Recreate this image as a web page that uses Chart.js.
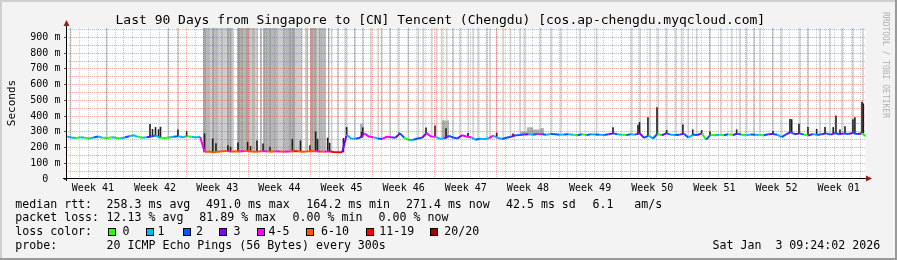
<!DOCTYPE html>
<html>
<head>
<meta charset="utf-8">
<title>Singapore to Tencent Chengdu</title>
<script src="https://cdn.jsdelivr.net/npm/chart.js"></script>
<style>
  html, body { margin: 0; padding: 0; background: #f3f3f3; }
  #graph { position: relative; width: 897px; height: 260px; overflow: hidden; }
  #graph canvas { position: absolute; left: 0; top: 0; }
  .txt { position: absolute; font-family: "DejaVu Sans Mono", monospace; white-space: pre; color: #000; line-height: 1; }
  .leg { font-size: 11.6px; }
  .sw { position: absolute; width: 6px; height: 6px; border: 1px solid #000; top: 228px; }
</style>
</head>
<body>
<div id="graph">
  <canvas id="smoke" width="897" height="260"></canvas>

  <div class="txt" style="left:115.5px;top:13px;font-size:13px">Last 90 Days from Singapore to [CN] Tencent (Chengdu) [cos.ap-chengdu.myqcloud.com]</div>
  <div class="txt" style="left:10.5px;top:103px;font-size:11px;transform:translate(-50%,-50%) rotate(-90deg)">Seconds</div>
  <div class="txt" style="left:881px;top:12px;font-size:8px;line-height:8px;color:#b0b0b0;writing-mode:vertical-rl">RRDTOOL / TOBI OETIKER</div>

  <div class="txt leg" style="left:15.3px;top:198.5px">median rtt:</div>
  <div class="txt leg" style="left:106.6px;top:198.5px">258.3 ms avg</div>
  <div class="txt leg" style="left:206px;top:198.5px">491.0 ms max</div>
  <div class="txt leg" style="left:306.3px;top:198.5px">164.2 ms min</div>
  <div class="txt leg" style="left:406px;top:198.5px">271.4 ms now</div>
  <div class="txt leg" style="left:506px;top:198.5px">42.5 ms sd</div>
  <div class="txt leg" style="left:592.6px;top:198.5px">6.1</div>
  <div class="txt leg" style="left:634.3px;top:198.5px">am/s</div>

  <div class="txt leg" style="left:15.3px;top:211.9px">packet loss:</div>
  <div class="txt leg" style="left:106.6px;top:211.9px">12.13 % avg</div>
  <div class="txt leg" style="left:199.3px;top:211.9px">81.89 % max</div>
  <div class="txt leg" style="left:292.6px;top:211.9px">0.00 % min</div>
  <div class="txt leg" style="left:378.6px;top:211.9px">0.00 % now</div>

  <div class="txt leg" style="left:15.3px;top:225.5px">loss color:</div>
  <div id="lossLegend"></div>

  <div class="txt leg" style="left:15.3px;top:239.5px">probe:</div>
  <div class="txt leg" style="left:106.6px;top:239.5px">20 ICMP Echo Pings (56 Bytes) every 300s</div>
  <div class="txt leg" style="left:712.6px;top:239.5px">Sat Jan  3 09:24:02 2026</div>
</div>

<script>
// values, one bucket every 12 h over 90 days
const STEP_DAYS = 0.5;
const Y_MAX_MS = 960;

const medianMs = [
  // week 41-42
  270, 264, 260, 266, 262, 258, 264, 270, 262, 260,
  266, 262, 258, 264, 272, 278, 268, 262, 266, 270,
  276, 262, 260, 264, 268, 272, 266, 272, 268, 264,
  268,
  // week 43-45, heavy loss
  172, 175, 170, 174, 176, 178, 174, 176, 175, 178,
  176, 174, 175, 177, 176, 174, 176, 175, 173, 175,
  177, 176, 174, 175, 178, 176, 175, 174, 176, 172,
  170, 170,
  // week 45-47
  282, 258, 256, 262, 290, 270, 266, 258, 255, 268,
  266, 262, 290, 262, 248, 250, 258, 262, 292, 270,
  268, 256, 258, 274, 264, 258, 278, 270, 266, 250,
  256, 254, 258, 276, 262, 254, 262, 268, 278,
  // week 48-01
  280, 283, 285, 282, 286, 284, 282, 286, 284, 282,
  283, 285, 282, 278, 284, 279, 285, 283, 282, 280,
  284, 290, 285, 282, 279, 284, 282, 290, 262, 276,
  258, 286, 278, 290, 282, 280, 282, 288, 262, 282,
  280, 290, 250, 282, 278, 282, 278, 284, 280, 288,
  282, 278, 283, 282, 280, 278, 284, 286, 282, 266,
  284, 298, 284, 290, 282, 276, 286, 280, 284, 290,
  282, 292, 284, 290, 286, 292, 286, 290, 272
];

// lost pings out of 20 for each bucket
const lossCount = [
  2, 1, 1, 0, 1, 0, 1, 2, 1, 0, 0, 1, 0, 1, 2, 1, 1, 0, 1, 3,
  2, 1, 0, 0, 1, 2, 1, 1, 0, 1, 1,
  5, 8, 8, 8, 8, 8, 5, 8, 8, 5, 8, 8, 8, 8, 5, 8, 8, 5, 8, 5,
  8, 12, 8, 8, 8, 8, 5, 8, 5, 12, 12, 12,
  3, 1, 1, 2, 3, 5, 5, 1, 2, 5, 4, 2, 3, 2, 0, 1, 2, 2, 3, 5,
  4, 1, 1, 3, 2, 2, 3, 5, 4, 1, 2, 1, 1, 5, 1, 1, 2, 2, 3,
  2, 2, 3, 1, 2, 5, 2, 1, 2, 2, 1, 2, 1, 0, 2, 0, 2, 1, 2, 1,
  2, 3, 2, 1, 0, 2, 1, 3, 3, 2, 1, 2, 0, 3, 2, 1, 2, 3, 2, 1,
  2, 3, 0, 2, 0, 1, 0, 2, 0, 3, 2, 0, 1, 2, 1, 0, 2, 3, 2, 1,
  2, 3, 2, 3, 2, 0, 3, 1, 2, 3, 2, 3, 2, 3, 2, 3, 2, 3, 0
];

// dense dark smoke spikes: day and top of the spike (ms)
const spikeDays = [
  9.35, 9.63, 9.97, 10.31, 10.53, 12.5, 13.48, 15.49,
  16.41, 16.78, 18.13, 18.42, 19.26, 20.35, 20.67, 21.4, 22.08, 22.87,
  25.38, 26.3, 27.37, 28.01, 28.22, 29.36, 29.59, 31.14,
  31.5, 33.19, 33.31, 37.4, 40.44, 41.45, 42.69, 45.17, 48.4, 50.24,
  61.5, 64.32, 64.49, 65.44, 66.46, 67.55, 69.38, 70.48, 71.49, 72.43,
  75.43, 79.52, 81.44, 81.63, 82.45, 83.46, 84.44, 85.38, 86.31, 86.62,
  87.07, 87.63, 88.53, 88.75, 89.55, 89.7
];
const spikeTopMs = [
  350, 318, 330, 316, 332, 315, 305, 290,
  258, 228, 215, 205, 232, 236, 210, 245, 225, 205,
  255, 245, 215, 302, 255, 262, 230, 260,
  330, 300, 328, 296, 328, 340, 322, 292, 294, 290,
  329, 345, 362, 393, 456, 312, 346, 315, 310, 302,
  315, 305, 382, 380, 351, 330, 318, 330, 330, 403,
  315, 335, 380, 393, 491, 480
];

// smoke running off the top of the graph: [start day, end day]
const midSmokeBands = [
  [15.32, 16.11], [16.67, 17.01], [17.4, 17.63], [17.97, 18.59], [19.15, 20.61],
  [20.84, 21.23], [21.74, 21.96], [22.13, 23.82], [24.27, 25.68], [27.03, 27.15],
  [27.37, 28.16], [28.38, 29.17], [29.4, 29.57]
];
const lightSmokeBands = [
  [16.11, 16.67], [17.01, 17.4], [17.63, 17.97], [18.59, 18.8], [20.61, 20.84],
  [21.23, 21.5], [23.82, 24.27], [25.68, 26.52], [26.8, 27.03], [28.16, 28.38],
  [29.74, 29.9], [30.47, 30.64], [31.26, 31.37]
];
const darkSmokeDays = [15.54, 16.5, 18.13, 19.32, 19.71, 20.27, 22.19, 22.87, 25.12, 25.57, 27.6, 27.93];
const thinSmokeDays = [
  0.39, 4.47, 11.41, 12.54, 31.5, 32.44, 33.31, 34.24, 35.06, 35.45, 36.38, 37.32,
  38.44, 39.57, 40.13, 41.08, 41.64, 42.21, 42.77, 43.51, 44.27, 45.2, 45.76, 46.3,
  47.27, 47.65, 48.4, 49.14, 49.95, 51.03, 51.6, 53.28, 54.58, 55.65, 57.79, 59.66,
  63.61, 64.55, 65.67, 66.6, 67.55, 68.6, 69.24, 69.98, 70.93, 72.43, 73.67, 74.87,
  75.81, 76.56, 77.38, 78.06, 79.52, 80.5, 82.56, 83.5, 84.82, 85.94, 87.3, 88.53, 89.66
];
// short smoke above the line: [start day, end day, top ms]
const shortSmoke = [
  [33.0, 33.4, 350], [42.24, 43.03, 372], [51.03, 51.81, 302],
  [51.81, 52.49, 329], [52.49, 53.28, 315], [53.28, 53.73, 323]
];

const weekLabels = ['Week 41', 'Week 42', 'Week 43', 'Week 44', 'Week 45', 'Week 46', 'Week 47',
  'Week 48', 'Week 49', 'Week 50', 'Week 51', 'Week 52', 'Week 01'];
const FIRST_DAY_LINE = 0.42;   // first midnight after the start
const FIRST_WEEK_LINE = 6.42;  // first Monday

const lossColors = [
  ['0', 0, '#26ff00'], ['1', 1, '#00b8ff'], ['2', 2, '#0059ff'], ['3', 3, '#7e00ff'],
  ['4-5', 5, '#ff00ff'], ['6-10', 10, '#ff5500'], ['11-19', 19, '#ff0000'], ['20/20', 20, '#a10000']
];

function colorForLoss(n) {
  for (const [, lim, c] of lossColors) if (n <= lim) return c;
  return '#a10000';
}
function medianAt(day) {
  const i = Math.min(medianMs.length - 1, Math.max(0, Math.round(day / STEP_DAYS)));
  return medianMs[i];
}

// legend swatches
const swatchX = [108, 145.7, 182.7, 219.3, 256.7, 306, 366, 430];
const labelX = [122.6, 157.6, 196, 233.6, 268.6, 321, 379.3, 444.3];
const legendBox = document.getElementById('lossLegend');
lossColors.forEach(([label, , color], k) => {
  const sw = document.createElement('div');
  sw.className = 'sw';
  sw.style.left = swatchX[k] + 'px';
  sw.style.background = color;
  legendBox.appendChild(sw);
  const t = document.createElement('div');
  t.className = 'txt leg';
  t.style.left = labelX[k] + 'px';
  t.style.top = '225.5px';
  t.textContent = label;
  legendBox.appendChild(t);
});

const medianPoints = medianMs.map((v, i) => ({ x: i * STEP_DAYS, y: v }));
const bandBars = (list) => list.map(([s, e]) => ({ x: (s + e) / 2, y: [medianAt((s + e) / 2), Y_MAX_MS], w: e - s }));
const lineBars = (list, w) => list.map(d => ({ x: d, y: [medianAt(d), Y_MAX_MS], w: w }));

const MAJOR = 'rgba(235, 40, 40, 0.38)';
const MINOR = 'rgba(0, 0, 0, 0.2)';
const NONE = 'rgba(0, 0, 0, 0)';
const tickFont = { family: 'DejaVu Sans Mono', size: 10 };

// bars get their width from a day span, through the x scale
const barSpan = {
  id: 'barSpan',
  afterDatasetsUpdate(chart) {
    const xs = chart.scales.x;
    chart.data.datasets.forEach((ds, i) => {
      if (ds.type !== 'bar') return;
      chart.getDatasetMeta(i).data.forEach((el, j) => {
        const p = ds.data[j];
        const x0 = xs.getPixelForValue(p.x - p.w / 2);
        const x1 = xs.getPixelForValue(p.x + p.w / 2);
        el.x = (x0 + x1) / 2;
        el.width = Math.max(1, x1 - x0);
      });
    });
  }
};

const frame = {
  id: 'frame',
  beforeDraw(chart) {
    const { ctx, width, height, chartArea: a } = chart;
    ctx.save();
    ctx.fillStyle = '#f3f3f3';
    ctx.fillRect(0, 0, width, height);
    ctx.fillStyle = '#cfcfcf';
    ctx.fillRect(0, 0, width, 2);
    ctx.fillRect(0, 0, 2, height);
    ctx.fillStyle = '#9a9a9a';
    ctx.fillRect(0, height - 2, width, 2);
    ctx.fillRect(width - 2, 0, 2, height);
    ctx.fillStyle = '#ffffff';
    ctx.fillRect(a.left, a.top, a.right - a.left, a.bottom - a.top);
    ctx.restore();
  },
  afterDraw(chart) {
    const { ctx, chartArea: a } = chart;
    ctx.save();
    ctx.strokeStyle = '#000';
    ctx.lineWidth = 1;
    ctx.setLineDash([]);
    ctx.beginPath();
    ctx.moveTo(a.left - 0.5, a.bottom + 2);
    ctx.lineTo(a.left - 0.5, a.top - 3);
    ctx.moveTo(a.left - 4, a.bottom - 0.5);
    ctx.lineTo(a.right + 1, a.bottom - 0.5);
    ctx.stroke();
    ctx.fillStyle = '#9b1b1b';
    ctx.beginPath();
    ctx.moveTo(a.left - 0.5, a.top - 8);
    ctx.lineTo(a.left - 3.5, a.top - 2);
    ctx.lineTo(a.left + 2.5, a.top - 2);
    ctx.closePath();
    ctx.fill();
    ctx.beginPath();
    ctx.moveTo(a.right + 6, a.bottom - 0.5);
    ctx.lineTo(a.right, a.bottom - 3.5);
    ctx.lineTo(a.right, a.bottom + 2.5);
    ctx.closePath();
    ctx.fill();
    ctx.restore();
  }
};

new Chart(document.getElementById('smoke'), {
  type: 'bar',
  data: {
    datasets: [
      {
        type: 'line', data: medianPoints, order: 0,
        borderWidth: 2, pointRadius: 0, tension: 0, fill: false,
        borderColor: '#0059ff',
        segment: { borderColor: c => colorForLoss(lossCount[c.p1DataIndex]) },
        xAxisID: 'x', yAxisID: 'y'
      },
      { type: 'bar', data: spikeDays.map((d, k) => ({ x: d, y: [medianAt(d), spikeTopMs[k]], w: 0.18 })),
        backgroundColor: '#1e1e1e', order: 1, grouped: false, borderWidth: 0, xAxisID: 'x', yAxisID: 'y' },
      { type: 'bar', data: shortSmoke.map(([s, e, top]) => ({ x: (s + e) / 2, y: [medianAt((s + e) / 2), top], w: e - s })),
        backgroundColor: '#b2b2b2', order: 2, grouped: false, borderWidth: 0, xAxisID: 'x', yAxisID: 'y' },
      { type: 'bar', data: lineBars(darkSmokeDays, 0.15),
        backgroundColor: '#9c9c9c', order: 3, grouped: false, borderWidth: 0, xAxisID: 'x', yAxisID: 'y' },
      { type: 'bar', data: bandBars(midSmokeBands),
        backgroundColor: '#b7b7b7', order: 4, grouped: false, borderWidth: 0, xAxisID: 'x', yAxisID: 'y' },
      { type: 'bar', data: bandBars(lightSmokeBands),
        backgroundColor: '#cbcbcb', order: 5, grouped: false, borderWidth: 0, xAxisID: 'x', yAxisID: 'y' },
      { type: 'bar', data: lineBars(thinSmokeDays, 0.2),
        backgroundColor: '#d2d2d2', order: 6, grouped: false, borderWidth: 0, xAxisID: 'x', yAxisID: 'y' }
    ]
  },
  options: {
    responsive: false,
    animation: false,
    events: [],
    layout: { padding: { left: 0, right: 31, top: 28, bottom: 61 } },
    plugins: { legend: { display: false }, tooltip: { enabled: false } },
    scales: {
      x: {
        type: 'linear', position: 'bottom', min: 0, max: 90, offset: false,
        ticks: { display: false, autoSkip: false },
        grid: { offset: false, drawTicks: false, z: 1, borderDash: [1, 1],
          color: c => (c.tick && c.tick.week ? MAJOR : MINOR) },
        border: { display: true, color: NONE, dash: [1, 1] },
        afterBuildTicks: s => {
          const t = [];
          for (let d = FIRST_DAY_LINE; d < 90; d += 1) {
            t.push({ value: d, week: Math.abs(((d - FIRST_WEEK_LINE) % 7 + 7) % 7) < 0.01 });
          }
          s.ticks = t;
        },
        afterFit: s => { s.height = 0; }
      },
      xw: {
        type: 'linear', position: 'bottom', min: 0, max: 90, offset: false,
        grid: { display: false, drawTicks: false },
        border: { display: false },
        ticks: { autoSkip: false, maxRotation: 0, minRotation: 0, padding: 3, color: '#000', font: tickFont,
          callback: (v, i) => weekLabels[i] },
        afterBuildTicks: s => {
          s.ticks = weekLabels.map((_, k) => ({ value: FIRST_WEEK_LINE - 3.5 + 7 * k }));
        },
        afterFit: s => { s.height = 20; }
      },
      y: {
        type: 'linear', position: 'left', min: 0, max: Y_MAX_MS,
        ticks: { autoSkip: false, padding: 3.6, color: '#000', font: tickFont,
          callback: v => (v % 100 === 0 ? (v === 0 ? '0  ' : v + ' m') : '') },
        grid: { z: 1, tickLength: 3, borderDash: [1, 1],
          color: c => (c.tick && c.tick.value === 0 ? NONE : MAJOR),
          tickColor: c => (c.tick && c.tick.value % 100 === 0 ? '#555' : NONE) },
        border: { display: true, color: NONE, dash: [1, 1] },
        afterBuildTicks: s => {
          const t = [];
          for (let v = 0; v < Y_MAX_MS; v += 50) t.push({ value: v });
          s.ticks = t;
        },
        afterFit: s => { s.width = 67; }
      }
    }
  },
  plugins: [barSpan, frame]
});
</script>
</body>
</html>
